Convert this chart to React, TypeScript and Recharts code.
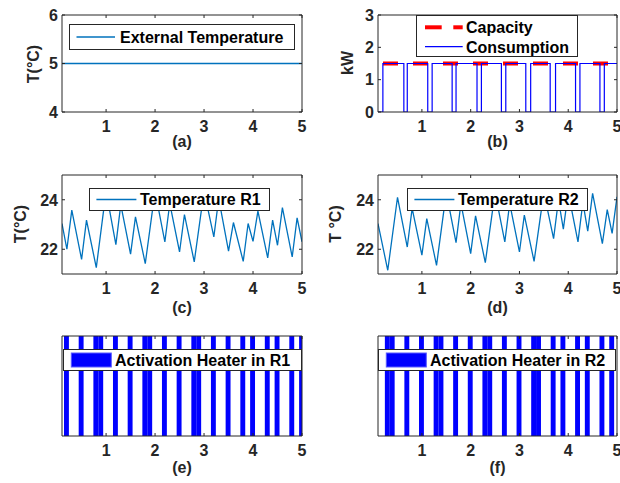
import React from 'react';
import { LineChart, BarChart, Line, Bar, XAxis, YAxis, ReferenceLine, Legend } from 'recharts';

const FONT = '"Liberation Sans", Arial, Helvetica, sans-serif';
const INK = '#262626';
const LINE_BLUE = '#0072BD';
const PURE_BLUE = '#0000FF';
const RED = '#FF0000';

// shared time axis (hours)
const hourTicks = [1, 2, 3, 4, 5];
const hourDomain: [number, number] = [0.1, 5];

// (a) external temperature
const extHours = [0.1, 5];
const extTemp = [5, 5];

// (b) total consumption (step) and capacity, kW
const consHours = [0.1, 0.2, 0.63, 0.7, 1.12, 1.21, 1.62, 1.7, 2.13, 2.22, 2.63, 2.72, 3.13, 3.23, 3.63, 3.74, 4.15, 4.24, 4.65, 4.74, 5.0];
const consKW = [0, 1.5, 0, 1.5, 0, 1.5, 0, 1.5, 0, 1.5, 0, 1.5, 0, 1.5, 0, 1.5, 0, 1.5, 0, 1.5, 1.5];
const capHours = [0.1, 5.0];
const capKW = [1.5, 1.5];

// (c) room 1 temperature
const r1Hours = [0.1, 0.2, 0.3, 0.5, 0.6, 0.8, 1.0, 1.2, 1.3, 1.5, 1.6, 1.8, 2.0, 2.2, 2.3, 2.5, 2.6, 2.8, 3.0, 3.2, 3.3, 3.5, 3.6, 3.8, 3.9, 4.0, 4.1, 4.3, 4.4, 4.5, 4.6, 4.8, 4.9, 5.0];
const r1Temp = [23.04, 22.0, 23.58, 21.59, 23.18, 21.26, 24.35, 22.19, 23.8, 21.8, 23.31, 21.42, 24.35, 22.3, 23.85, 21.89, 23.4, 21.49, 24.35, 22.5, 24.05, 21.92, 23.08, 21.51, 23.04, 22.32, 23.54, 21.65, 23.18, 22.16, 23.68, 21.69, 23.27, 22.3];

// (d) room 2 temperature
const r2Hours = [0.1, 0.3, 0.5, 0.7, 0.8, 1.0, 1.1, 1.3, 1.5, 1.7, 1.8, 2.0, 2.1, 2.3, 2.5, 2.7, 2.8, 3.0, 3.1, 3.3, 3.5, 3.7, 3.8, 3.9, 4.0, 4.2, 4.3, 4.4, 4.5, 4.7, 4.8, 4.9, 5.0];
const r2Temp = [23.04, 21.15, 24.1, 22.09, 23.65, 21.76, 23.24, 21.35, 24.3, 22.27, 23.85, 21.82, 23.35, 21.46, 24.3, 22.3, 23.85, 21.89, 23.38, 21.51, 24.3, 22.43, 24.0, 22.81, 24.3, 22.3, 23.9, 22.73, 24.26, 22.23, 23.6, 22.64, 24.12];

// (e), (f) heater on-steps
const heaterR1On = [0.2, 0.5, 0.8, 0.9, 1.2, 1.5, 1.8, 1.9, 2.2, 2.5, 2.8, 2.9, 3.2, 3.5, 3.8, 4.0, 4.3, 4.5, 4.8, 5.0];
const heaterR2On = [0.3, 0.4, 0.7, 1.0, 1.3, 1.4, 1.7, 2.0, 2.3, 2.4, 2.7, 3.0, 3.3, 3.4, 3.7, 3.9, 4.2, 4.4, 4.7, 4.9];

type Margin = { top: number; right: number; bottom: number; left: number };
type Panel = { x: number; y: number; w: number; h: number; m: Margin };

const box = (p: Panel) => ({ l: p.m.left, r: p.w - p.m.right, t: p.m.top, b: p.h - p.m.bottom });
// axes take the left/bottom space themselves
const chartMargin = (p: Panel) => ({ top: p.m.top, right: p.m.right, bottom: 0, left: 0 });

const txt = { fontFamily: FONT, fontWeight: 'bold' as const, fontSize: 16 };

function xTick(p: Panel) {
  const b = box(p);
  return (props: any) => {
    const { x, payload } = props;
    return (
      <g>
        <line x1={x} x2={x} y1={b.b} y2={b.b - 3} stroke={INK} />
        <line x1={x} x2={x} y1={b.t} y2={b.t + 3} stroke={INK} />
        <text x={x} y={b.b + 19.5} textAnchor="middle" fill={INK} {...txt}>{payload.value}</text>
      </g>
    );
  };
}

function yTick(p: Panel) {
  const b = box(p);
  return (props: any) => {
    const { y, payload } = props;
    return (
      <g>
        <line x1={b.l} x2={b.l + 3} y1={y} y2={y} stroke={INK} />
        <line x1={b.r} x2={b.r - 3} y1={y} y2={y} stroke={INK} />
        <text x={b.l - 4} y={y + 5.8} textAnchor="end" fill={INK} {...txt}>{payload.value}</text>
      </g>
    );
  };
}

const yTitle = (text: string, cx: number, cy: number) => ({
  content: () => (
    <text transform={`translate(${cx},${cy}) rotate(-90)`} textAnchor="middle" y={5.8} fill={INK} {...txt}>{text}</text>
  ),
});

const xTitle = (text: string, cx: number, base: number) => ({
  content: () => (
    <text x={cx} y={base} textAnchor="middle" fill={INK} {...txt}>{text}</text>
  ),
});

function LegendBox({ w, h, children }: { w: number; h: number; children: React.ReactNode }) {
  return (
    <svg width={w} height={h} style={{ display: 'block' }}>
      <rect x={0.5} y={0.5} width={w - 1} height={h - 1} fill="#fff" stroke={INK} />
      {children}
    </svg>
  );
}

const legendText = (x: number, y: number, s: string) => (
  <text x={x} y={y} fill="#000" {...txt}>{s}</text>
);

// one time step wide, centred on the sample
const STEP_PX = 4.9;
const HeaterBar = (props: any) => {
  const { x, y, width, height } = props;
  const cx = x + width / 2;
  return <rect x={cx - STEP_PX / 2} y={y} width={STEP_PX} height={height} fill={PURE_BLUE} />;
};

const panelA: Panel = { x: 0, y: 0, w: 310, h: 160, m: { top: 15, right: 8, bottom: 48, left: 62 } };
const panelB: Panel = { x: 310, y: 0, w: 310, h: 160, m: { top: 15, right: 3, bottom: 48, left: 68 } };
const panelC: Panel = { x: 0, y: 160, w: 310, h: 160, m: { top: 15, right: 8, bottom: 46, left: 62 } };
const panelD: Panel = { x: 310, y: 160, w: 310, h: 160, m: { top: 15, right: 3, bottom: 46, left: 68 } };
const panelE: Panel = { x: 0, y: 320, w: 310, h: 163, m: { top: 16, right: 8, bottom: 47, left: 62 } };
const panelF: Panel = { x: 310, y: 320, w: 310, h: 163, m: { top: 16, right: 3, bottom: 47, left: 68 } };

function xAxisFor(p: Panel, title: string, base: number) {
  const b = box(p);
  return (
    <XAxis
      type="number"
      dataKey="t"
      domain={hourDomain}
      ticks={hourTicks}
      interval={0}
      allowDataOverflow
      height={p.m.bottom}
      tickLine={false}
      axisLine={{ stroke: INK }}
      tick={xTick(p)}
      label={xTitle(title, (b.l + b.r) / 2, base)}
    />
  );
}

function yAxisFor(p: Panel, domain: [number, number], ticks: number[] | null, title: string | null, cx = 0, cy = 0) {
  return (
    <YAxis
      type="number"
      domain={domain}
      ticks={ticks ?? undefined}
      interval={0}
      allowDataOverflow
      width={p.m.left}
      tickLine={false}
      axisLine={{ stroke: INK }}
      tick={ticks ? yTick(p) : false}
      label={title ? yTitle(title, cx, cy) : undefined}
    />
  );
}

const frameLines = (top: number) => [
  <ReferenceLine key="top" y={top} stroke={INK} strokeWidth={1} />,
  <ReferenceLine key="right" x={hourDomain[1]} stroke={INK} strokeWidth={1} />,
];

function ExternalPanel() {
  const p = panelA;
  const data = extHours.map((t, i) => ({ t, temp: extTemp[i] }));
  return (
    <LineChart width={p.w} height={p.h} data={data} margin={chartMargin(p)}>
      {xAxisFor(p, '(a)', 146.5)}
      {yAxisFor(p, [4, 6], [4, 5, 6], 'T(°C)', 33, 64)}
      {frameLines(6)}
      <Line dataKey="temp" stroke={LINE_BLUE} strokeWidth={1.4} dot={false} isAnimationActive={false} />
      <Legend
        layout="horizontal"
        verticalAlign="middle"
        align="center"
        wrapperStyle={{ left: 69, top: 24, width: 226, height: 26 }}
        content={() => (
          <LegendBox w={226} h={26}>
            <line x1={7.5} x2={46} y1={13} y2={13} stroke={LINE_BLUE} strokeWidth={1.3} />
            {legendText(51, 18.8, 'External Temperature')}
          </LegendBox>
        )}
      />
    </LineChart>
  );
}

function PowerPanel() {
  const p = panelB;
  const data = consHours.map((t, i) => {
    const c = capHours.indexOf(t);
    return { t, cons: consKW[i], cap: c >= 0 ? capKW[c] : null };
  });
  return (
    <LineChart width={p.w} height={p.h} data={data} margin={chartMargin(p)}>
      {xAxisFor(p, '(b)', 146.5)}
      {yAxisFor(p, [0, 3], [0, 1, 2, 3], 'kW', 37, 63)}
      <Line dataKey="cap" stroke={RED} strokeWidth={4} strokeDasharray="15 15" strokeDashoffset={25} connectNulls dot={false} isAnimationActive={false} />
      <Line dataKey="cons" type="stepAfter" stroke={PURE_BLUE} strokeWidth={1.2} dot={false} isAnimationActive={false} />
      {frameLines(3)}
      <Legend
        layout="horizontal"
        verticalAlign="middle"
        align="center"
        wrapperStyle={{ left: 106, top: 15, width: 162, height: 42 }}
        content={() => (
          <LegendBox w={162} h={42}>
            <line x1={9} x2={25.7} y1={12.3} y2={12.3} stroke={RED} strokeWidth={4} />
            <line x1={37.3} x2={46.7} y1={12.3} y2={12.3} stroke={RED} strokeWidth={4} />
            {legendText(50, 18.1, 'Capacity')}
            <line x1={9} x2={46.7} y1={31.7} y2={31.7} stroke={PURE_BLUE} strokeWidth={1.2} />
            {legendText(50, 37.5, 'Consumption')}
          </LegendBox>
        )}
      />
    </LineChart>
  );
}

function RoomTempPanel({ p, hours, temps, title, yLabel, labelX, legendLeft, legendName }: {
  p: Panel; hours: number[]; temps: number[]; title: string; yLabel: string; labelX: number; legendLeft: number; legendName: string;
}) {
  const data = hours.map((t, i) => ({ t, temp: temps[i] }));
  return (
    <LineChart width={p.w} height={p.h} data={data} margin={chartMargin(p)}>
      {xAxisFor(p, title, 153.4)}
      {yAxisFor(p, [21, 25], [22, 24], yLabel, labelX, 64)}
      <Line dataKey="temp" stroke={LINE_BLUE} strokeWidth={1.3} dot={false} isAnimationActive={false} />
      {frameLines(25)}
      <Legend
        layout="horizontal"
        verticalAlign="middle"
        align="center"
        wrapperStyle={{ left: legendLeft, top: 28, width: 181, height: 23 }}
        content={() => (
          <LegendBox w={181} h={23}>
            <line x1={7.4} x2={47.4} y1={11.5} y2={11.5} stroke={LINE_BLUE} strokeWidth={1.3} />
            {legendText(51, 17.3, legendName)}
          </LegendBox>
        )}
      />
    </LineChart>
  );
}

function HeaterPanel({ p, onHours, title, legendLeft, legendWidth, legendName }: {
  p: Panel; onHours: number[]; title: string; legendLeft: number; legendWidth: number; legendName: string;
}) {
  const data = onHours.map((t) => ({ t, on: 1 }));
  return (
    <BarChart width={p.w} height={p.h} data={data} margin={chartMargin(p)} barCategoryGap={0}>
      {xAxisFor(p, title, 153.4)}
      {yAxisFor(p, [0, 1], null, null)}
      <Bar dataKey="on" fill={PURE_BLUE} barSize={4} shape={HeaterBar} isAnimationActive={false} />
      {frameLines(1)}
      <Legend
        layout="horizontal"
        verticalAlign="middle"
        align="center"
        wrapperStyle={{ left: legendLeft, top: 29, width: legendWidth, height: 22 }}
        content={() => (
          <LegendBox w={legendWidth} h={22}>
            <rect x={8.3} y={4} width={40} height={14} fill={PURE_BLUE} stroke="#5a5aff" strokeWidth={1} />
            {legendText(52, 16.8, legendName)}
          </LegendBox>
        )}
      />
    </BarChart>
  );
}

function Place({ p, children }: { p: Panel; children: React.ReactNode }) {
  return <div style={{ position: 'absolute', left: p.x, top: p.y, width: p.w, height: p.h }}>{children}</div>;
}

export default function App() {
  return (
    <div style={{ position: 'absolute', left: 0, top: 0, width: 620, height: 483, background: '#fff', overflow: 'hidden' }}>
      <Place p={panelA}><ExternalPanel /></Place>
      <Place p={panelB}><PowerPanel /></Place>
      <Place p={panelC}>
        <RoomTempPanel p={panelC} hours={r1Hours} temps={r1Temp} title="(c)" yLabel="T(°C)" labelX={20} legendLeft={89} legendName="Temperature R1" />
      </Place>
      <Place p={panelD}>
        <RoomTempPanel p={panelD} hours={r2Hours} temps={r2Temp} title="(d)" yLabel="T °C)" labelX={25.5} legendLeft={97} legendName="Temperature R2" />
      </Place>
      <Place p={panelE}>
        <HeaterPanel p={panelE} onHours={heaterR1On} title="(e)" legendLeft={63} legendWidth={239} legendName="Activation Heater in R1" />
      </Place>
      <Place p={panelF}>
        <HeaterPanel p={panelF} onHours={heaterR2On} title="(f)" legendLeft={68} legendWidth={238} legendName="Activation Heater in R2" />
      </Place>
    </div>
  );
}
